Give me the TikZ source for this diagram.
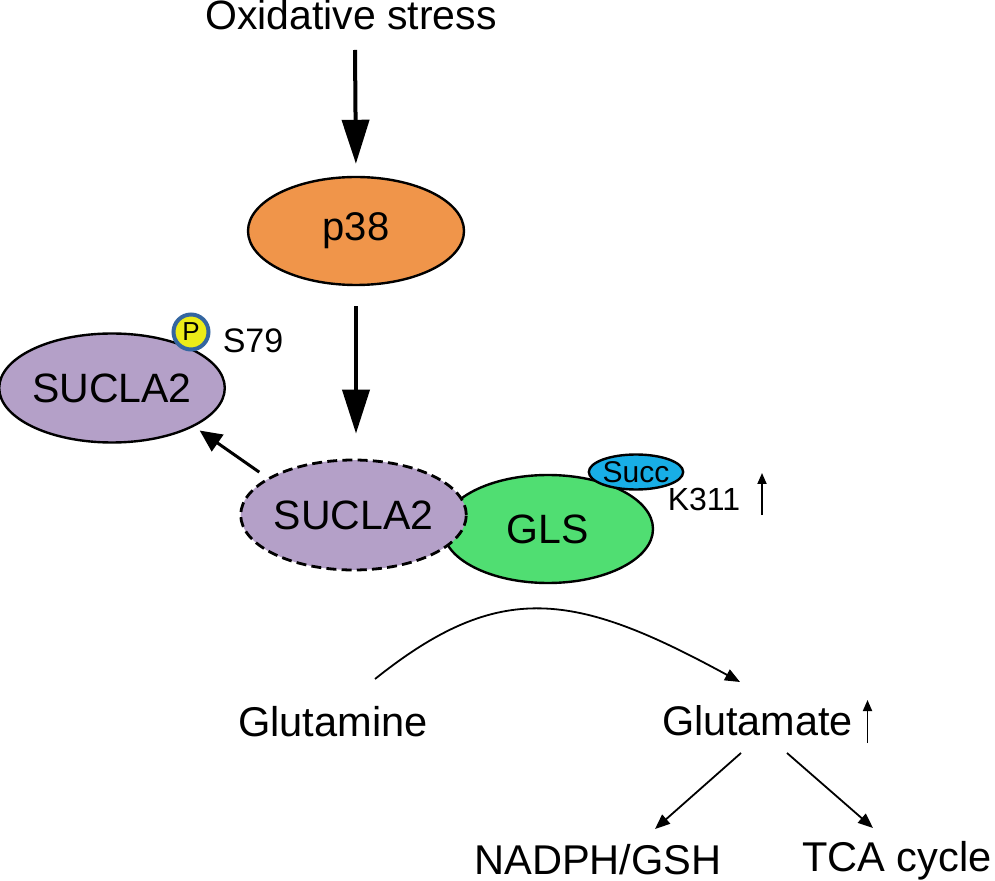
\documentclass[tikz,border=0pt]{standalone}
\usepackage{fontspec}
\setmainfont{Liberation Sans}
\usepackage{tikz}
\usetikzlibrary{arrows.meta}
\usetikzlibrary{shapes.geometric}
\usepackage{xcolor}
\definecolor{porange}{RGB}{240,149,74}
\definecolor{plilac}{RGB}{180,160,200}
\definecolor{pgreen}{RGB}{80,222,114}
\definecolor{pcyan}{RGB}{24,174,230}
\definecolor{pyellow}{RGB}{236,236,24}
\definecolor{pring}{RGB}{52,102,160}
\newcommand{\fsz}[1]{\fontsize{#1}{#1}\selectfont}

\begin{document}
\begin{tikzpicture}[x=0.5pt,y=-0.5pt,
  prot/.style={ellipse,draw=black,line width=1.2pt,inner sep=0pt},
  lbl/.style={anchor=base,inner sep=0pt},
  bigarr/.style={line width=2pt,-{Triangle[length=22pt,width=13.5pt]}},
  midarr/.style={line width=1.5pt,-{Triangle[length=11pt,width=10pt]}},
  thinarr/.style={line width=0.9pt,-{Triangle[length=7.5pt,width=6pt]}},
  uparr/.style={line width=0.9pt,-{Triangle[length=5.5pt,width=4.5pt]}}]
\useasboundingbox (0,0) rectangle (995,881);
\node[lbl] (ox) at (351,30) {\fsz{20.5}Oxidative stress};
\node[prot,fill=porange,minimum width=108pt,minimum height=54pt] (p38) at (356,231) {\fsz{20}p38};
\node[prot,fill=plilac,minimum width=108.5pt,minimum height=54.5pt] (suca) at (112,388) {\fsz{20.5}SUCLA2};
\node[circle,draw=pring,fill=pyellow,line width=2pt,minimum size=17.5pt,inner sep=0pt] (pho) at (191,332) {\fsz{13}P};
\node[lbl] (s79) at (253,353) {\fsz{17}S79};
\node[prot,fill=pgreen,minimum width=105pt,minimum height=54pt] (gls) at (548,529) {\fsz{20.5}GLS};
\node[prot,fill=plilac,line width=1.4pt,dash pattern=on 5pt off 2.6pt,minimum width=106.5pt,minimum height=55pt] (sucb) at (353.5,515) {\fsz{20.5}SUCLA2};
\node[prot,fill=pcyan,minimum width=36pt,minimum height=17.5pt] (succ) at (636,472) {\fsz{15}Succ};
\node[lbl] (k311) at (704,510) {\fsz{16}K311};
\node[lbl] (gln) at (333,736) {\fsz{20.8}Glutamine};
\node[lbl] (glu) at (757.5,735) {\fsz{20.7}Glutamate};
\node[lbl] (nadph) at (598,874) {\fsz{20.8}NADPH/GSH};
\node[lbl] (tca) at (897,871) {\fsz{20.8}TCA cycle};

\draw[bigarr,shorten >=6pt] ([shift={(2pt,-10pt)}]ox.base) -- (p38.north);
\draw[bigarr,shorten <=10pt,shorten >=12.5pt] (p38.south) -- (p38.south |- sucb.north);
\draw[midarr] ([xshift=-10pt]sucb.150) -- ([xshift=7pt]suca.-30);
\draw[uparr] ([shift={(29pt,-2.5pt)}]k311.base) -- ([shift={(29pt,18.5pt)}]k311.base);
\draw[thinarr] ([shift={(21pt,28.5pt)}]gln.base) .. controls +(125,-100) and +(-165,-90) .. ([shift={(-8.75pt,26.5pt)}]glu.base);
\draw[uparr] ([shift={(55pt,-4pt)}]glu.base) -- ([shift={(55pt,17.5pt)}]glu.base);
\draw[thinarr] ([shift={(-8.25pt,-9pt)}]glu.base) -- ([shift={(28.5pt,22.5pt)}]nadph.base);
\draw[thinarr] ([shift={(14.75pt,-9pt)}]glu.base) -- ([shift={(-12pt,21.5pt)}]tca.base);
\end{tikzpicture}
\end{document}
